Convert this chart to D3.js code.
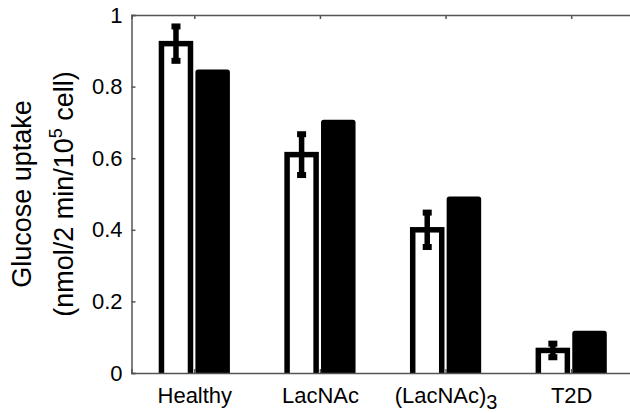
<!DOCTYPE html>
<html>
<head>
<meta charset="utf-8">
<script src="https://cdn.jsdelivr.net/npm/d3@7"></script>
<style>
  body { margin: 0; background: #fff; }
  svg text { font-family: "Liberation Sans", Arial, sans-serif; fill: #000; }
  .axis path, .axis line { stroke: #555; stroke-width: 1.5; }
</style>
</head>
<body>
<svg id="drawing_region" width="630" height="413"></svg>
<script>
// values
var categories = ["Healthy", "LacNAc", "(LacNAc)3", "T2D"];
var tickLabels = [["Healthy", ""], ["LacNAc", ""], ["(LacNAc)", "3"], ["T2D", ""]];
var measured = [0.92, 0.61, 0.40, 0.063];
var measuredErr = [0.048, 0.057, 0.048, 0.019];
var predicted = [0.84, 0.70, 0.485, 0.11];
var yTicks = [0, 0.2, 0.4, 0.6, 0.8, 1];

var svg = d3.select('#drawing_region');
var margin = {top: 15, left: 131.5, bottom: 373, right: 634};

var x = d3.scaleLinear().domain([0.5, 4.5]).range([margin.left, margin.right]);
var y = d3.scaleLinear().domain([0, 1]).range([margin.bottom, margin.top]);

var barW = 0.231, offset = 0.146, edge = 5.5;

svg.append("clipPath").attr("id", "plotclip")
    .append("rect")
    .attr("x", margin.left).attr("y", 0)
    .attr("width", margin.right - margin.left).attr("height", margin.bottom);

var plot = svg.append("g").attr("clip-path", "url(#plotclip)");

// white bars (measured)
plot.selectAll("rect.meas")
    .data(measured)
    .join("rect")
    .attr("class", "meas")
    .attr("x", (d, i) => x(i + 1 - offset - barW / 2))
    .attr("y", d => y(d))
    .attr("width", x(barW) - x(0))
    .attr("height", d => y(0) - y(d) + 10)
    .attr("fill", "#fff")
    .attr("stroke", "#000")
    .attr("stroke-width", edge);

// black bars (predicted)
plot.selectAll("rect.pred")
    .data(predicted)
    .join("rect")
    .attr("class", "pred")
    .attr("x", (d, i) => x(i + 1 + offset - barW / 2))
    .attr("y", d => y(d))
    .attr("width", x(barW) - x(0))
    .attr("height", d => y(0) - y(d) + 10)
    .attr("fill", "#000")
    .attr("stroke", "#000")
    .attr("stroke-width", edge)
    .attr("stroke-linejoin", "round");

// error bars
var err = svg.append("g");
err.selectAll("line")
    .data(measured)
    .join("line")
    .attr("x1", (d, i) => x(i + 1 - offset))
    .attr("x2", (d, i) => x(i + 1 - offset))
    .attr("y1", (d, i) => y(d + measuredErr[i]))
    .attr("y2", (d, i) => y(d - measuredErr[i]))
    .attr("stroke", "#000")
    .attr("stroke-width", 5.5);
[1, -1].forEach(s => {
    err.selectAll("rect.cap" + (s > 0 ? "t" : "b"))
        .data(measured)
        .join("rect")
        .attr("class", "cap" + (s > 0 ? "t" : "b"))
        .attr("x", (d, i) => x(i + 1 - offset) - 4.5)
        .attr("y", (d, i) => y(d + s * measuredErr[i]) - 3)
        .attr("width", 9)
        .attr("height", 6)
        .attr("fill", "#000");
});

// axes box
svg.append("g").attr("class", "axis")
    .attr("transform", `translate(${margin.left},0)`)
    .call(d3.axisLeft(y).tickValues(yTicks).tickSize(-4).tickPadding(9)
        .tickFormat(d => d === 0 || d === 1 ? d : d3.format(".1f")(d)))
    .call(g => g.selectAll("text").style("font-size", "22px"));

svg.append("g").attr("class", "axis")
    .attr("transform", `translate(${margin.right},0)`)
    .call(d3.axisRight(y).tickValues(yTicks).tickSize(-4).tickFormat(""));

svg.append("g").attr("class", "axis")
    .attr("transform", `translate(0,${margin.top})`)
    .call(d3.axisTop(x).tickValues([1, 2, 3, 4]).tickSize(-4).tickFormat(""));

var xAxis = svg.append("g").attr("class", "axis")
    .attr("transform", `translate(0,${margin.bottom})`)
    .call(d3.axisBottom(x).tickValues([1, 2, 3, 4]).tickSize(-4).tickPadding(14)
        .tickFormat(""));

xAxis.selectAll(".tick text")
    .style("font-size", "22px")
    .each(function (d, i) {
        var t = d3.select(this);
        t.append("tspan").text(tickLabels[i][0]);
        if (tickLabels[i][1]) {
            t.append("tspan").attr("dy", 6).style("font-size", "20px").text(tickLabels[i][1]);
        }
    });

// y label
var yl = svg.append("text")
    .attr("transform", `translate(0,${(margin.top + margin.bottom) / 2}) rotate(-90)`)
    .attr("text-anchor", "middle")
    .style("font-size", "27px");
yl.append("tspan").attr("x", 0).attr("y", 31).text("Glucose uptake");
var l2 = yl.append("tspan").attr("x", 0).attr("y", 73);
l2.append("tspan").text("(nmol/2 min/10");
l2.append("tspan").attr("dy", -11).style("font-size", "18px").text("5");
l2.append("tspan").attr("dy", 11).text(" cell)");
</script>
</body>
</html>
